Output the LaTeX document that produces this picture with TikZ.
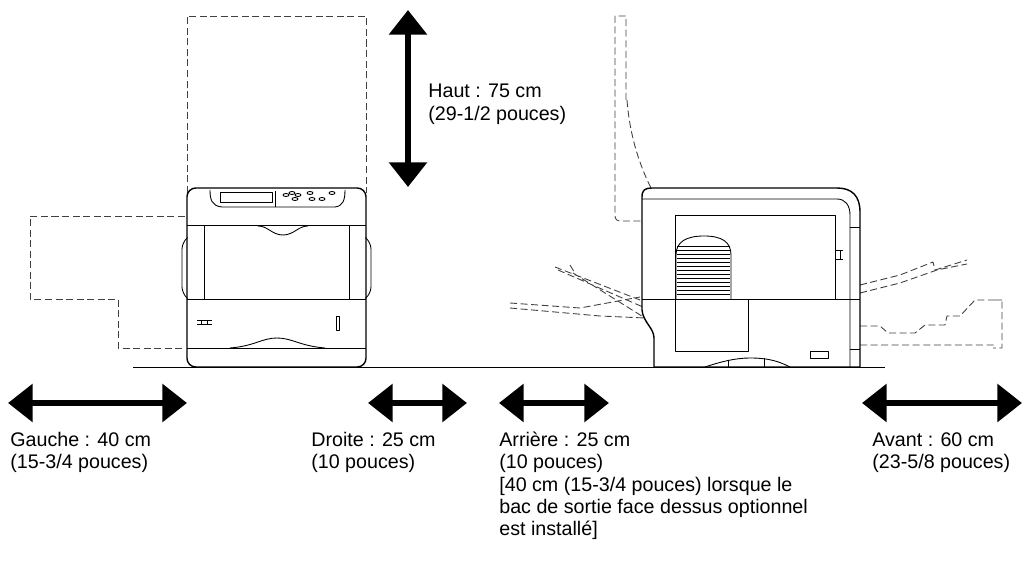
\documentclass[tikz,border=0pt]{standalone}
\usepackage{fontspec}
\setmainfont{Liberation Sans}
\usetikzlibrary{arrows.meta}
\begin{document}
\begin{tikzpicture}[x=0.02cm,y=-0.02cm,line join=round,
  outline/.style={line width=0.8pt},
  thin line/.style={line width=0.5pt},
  ghost/.style={line width=0.5pt,black!75,dash pattern=on 4pt off 2pt},
  space/.style={line width=3.6pt,{Triangle[length=14pt,width=21pt]}-{Triangle[length=14pt,width=21pt]}},
  label/.style={anchor=north west,align=left,font=\fontsize{11.2}{12.6}\selectfont,inner sep=0pt}]
\useasboundingbox (0,0) rectangle (1029,570);

% floor
\draw[thin line] (133,367)--(885,367);

% front view
\draw[ghost] (187,193)--(187,16)--(366,16)--(366,193);
\draw[ghost] (185,216)--(30,216)--(30,299)--(118,299)--(118,348)--(185,348);
\draw[outline,rounded corners=5] (187,367)--(187,188)--(366,188)--(366,367)--cycle;
\draw[thin line] (210,190) .. controls (210,200) and (212,206) .. (222,207)--(335,207) .. controls (343,206) and (345,200) .. (345,190);
\draw[thin line] (220,192) rectangle (272,202);
\draw[thin line] (275,191)--(275,207);
\foreach \bx/\by in {286/195, 292/193, 298/195, 295/199, 310/193, 312/199, 332/193, 322/199}
  \draw[thin line] (\bx,\by) ellipse[x radius=3,y radius=1.5];
\draw[thin line] (187,225)--(366,225);
\draw[thin line] (204,226)--(204,299) (349,226)--(349,299);
\draw[thin line] (258,226) .. controls (268,226) and (272,235) .. (283,235) .. controls (294,235) and (298,226) .. (308,226);
\draw[thin line,rounded corners=4] (187,238)--(182,242)--(182,294)--(187,298);
\draw[thin line,rounded corners=4] (366,238)--(371,242)--(371,294)--(366,298);
\draw[thin line] (187,299)--(366,299);
\draw[thin line] (187,348)--(366,348);
\draw[thin line] (230,348) .. controls (255,346) and (262,338) .. (277,338) .. controls (292,338) and (300,346) .. (325,348);
\draw[thin line] (197,320)--(212,320) (197,324)--(212,324) (201,320)--(201,324) (207,320)--(207,324);
\draw[thin line] (336,316) rectangle (339,330);

% height
\draw[space] (408,10)--(408,187);
\node[label] (haut) at (428,84) {Haut : 75 cm\\(29-1/2 pouces)};

% side view
\draw[ghost] (626,100)--(626,16)--(615,16)--(615,215) .. controls (615,220) and (617,221) .. (622,221)--(641,221);
\draw[ghost] (627,100) .. controls (630,140) and (642,170) .. (651,188);
\draw[ghost] (555,267)--(640,300) (558,270)--(643,307) (570,265)--(576,275) (573,273)--(645,318);
\draw[ghost] (510,303)--(580,308)--(640,297) (510,308)--(600,316)--(645,318);
\draw[ghost] (860,285)--(900,275)--(933,262)--(935,270)--(967,260) (860,293)--(900,283)--(937,270)--(967,264);
\draw[ghost] (860,326)--(880,326)--(888,333)--(915,333)--(925,325)--(945,325)--(947,316)--(960,316)--(975,300)--(1002,300) (993,300)--(1002,300)--(1002,348)--(993,348) (860,345)--(995,345);
\draw[outline] (654,367)--(654,338) .. controls (654,328) and (643,322) .. (642,310)--(642,197) .. controls (642,190) and (645,188) .. (652,188)--(837,188) .. controls (852,188) and (860,196) .. (860,212)--(860,367)--cycle;
\draw[thin line] (642,199)--(837,199) .. controls (845,199) and (850,205) .. (850,215)--(850,367);
\draw[thin line] (850,227)--(860,227) (850,349)--(860,349);
\draw[thin line] (675,215) rectangle (835,299);
\draw[thin line] (676,299)--(676,255) .. controls (676,242) and (686,236) .. (704,236) .. controls (722,236) and (731,242) .. (731,255)--(731,299);
\foreach \gy in {246,250,...,294} \draw[thin line] (677,\gy)--(730,\gy);
\draw[thin line] (642,299)--(860,299);
\draw[thin line] (675,299)--(675,351)--(748,351)--(748,299);
\draw[thin line] (835,250)--(843,250) (835,259)--(843,259) (840,250)--(840,259);
\draw[thin line] (810,351) rectangle (828,358);
\draw[thin line] (705,367) .. controls (720,362) and (735,358) .. (750,358) .. controls (770,358) and (780,362) .. (790,367);
\draw[thin line] (728,360)--(728,367) (764,358)--(764,367);

% clearances
\draw[space] (8,403)--(187,403);
\node[label] (gauche) at (10,432) {Gauche : 40 cm\\(15-3/4 pouces)};
\draw[space] (368,403)--(467,403);
\node[label] (droite) at (311,432) {Droite : 25 cm\\(10 pouces)};
\draw[space] (499,403)--(609,403);
\node[label] (arriere) at (499,432) {Arrière : 25 cm\\(10 pouces)\\{}[40 cm (15-3/4 pouces) lorsque le\\bac de sortie face dessus optionnel\\est installé]};
\draw[space] (862,403)--(1022,403);
\node[label] (avant) at (872,432) {Avant : 60 cm\\(23-5/8 pouces)};
\end{tikzpicture}
\end{document}
